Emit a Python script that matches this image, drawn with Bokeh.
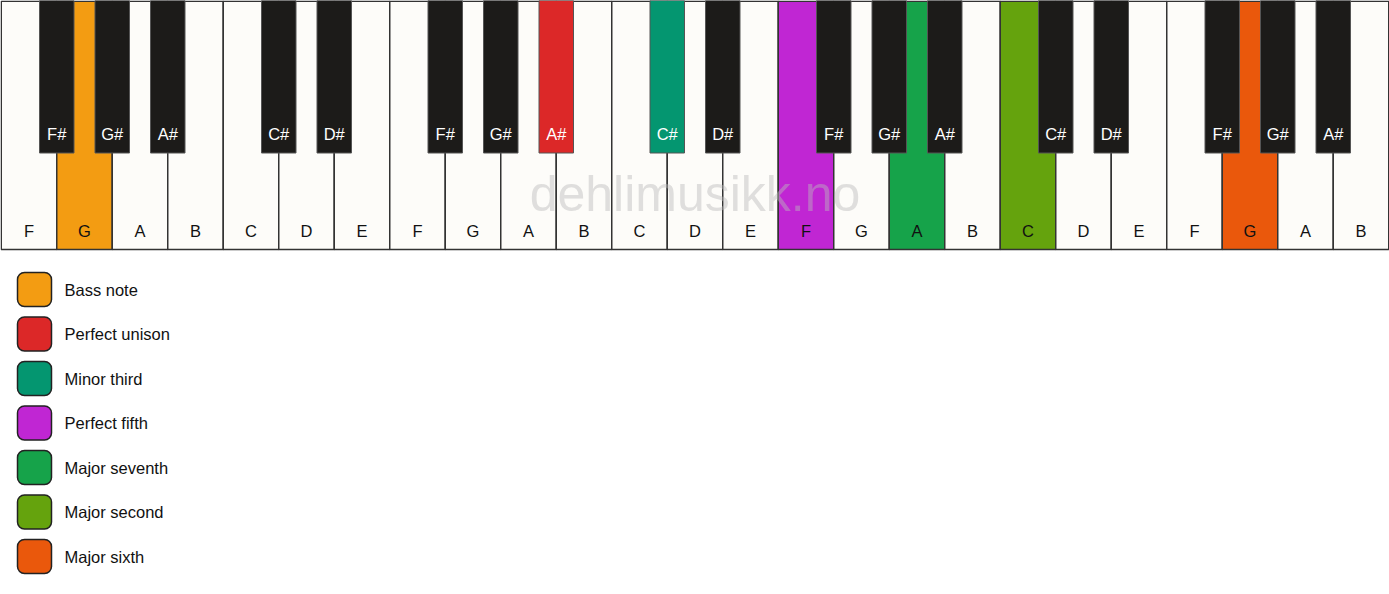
from bokeh.plotting import figure
from bokeh.models import Range1d, ColumnDataSource
from bokeh.core.properties import value
from bokeh.embed import file_html
from bokeh.resources import INLINE

# ---- data ----
white_notes = ["F", "G", "A", "B", "C", "D", "E",
               "F", "G", "A", "B", "C", "D", "E",
               "F", "G", "A", "B", "C", "D", "E",
               "F", "G", "A", "B"]
# black key = (label, index of white key to its left)
black_notes = [("F#", 0), ("G#", 1), ("A#", 2), ("C#", 4), ("D#", 5),
               ("F#", 7), ("G#", 8), ("A#", 9), ("C#", 11), ("D#", 12),
               ("F#", 14), ("G#", 15), ("A#", 16), ("C#", 18), ("D#", 19),
               ("F#", 21), ("G#", 22), ("A#", 23)]
# highlighted keys: key index -> interval name
highlight_white = {1: "Bass note", 14: "Perfect fifth", 16: "Major seventh",
                   18: "Major second", 22: "Major sixth"}
highlight_black = {9: "Perfect unison", 11: "Minor third"}
legend_labels = ["Bass note", "Perfect unison", "Minor third", "Perfect fifth",
                 "Major seventh", "Major second", "Major sixth"]
legend_colors = ["#f39c12", "#dc2828", "#049670", "#c026d3",
                 "#16a34a", "#65a30d", "#ea580c"]
watermark = "dehlimusikk.no"

color_of = dict(zip(legend_labels, legend_colors))

# ---- geometry ----
W_TOTAL = 1389
H_TOTAL = 594
n_white = len(white_notes)
x0 = 0.75
kw = (W_TOTAL - 2 * x0) / n_white
white_h = 249
black_h = 152.5
black_w = 34.5

FONT = value("Liberation Sans")
FS = "16.5px"

p = figure(width=W_TOTAL, height=H_TOTAL, output_backend="svg", toolbar_location=None,
           x_range=Range1d(0, W_TOTAL), y_range=Range1d(H_TOTAL, 0),
           min_border=0, min_border_left=0, min_border_right=0,
           min_border_top=0, min_border_bottom=0)
p.xaxis.visible = False
p.yaxis.visible = False
p.grid.visible = False
p.outline_line_color = None
p.background_fill_color = "white"
p.border_fill_color = "white"

# white keys
wl = [x0 + i * kw for i in range(n_white)]
wr = [x0 + (i + 1) * kw for i in range(n_white)]
wcol = [color_of[highlight_white[i]] if i in highlight_white else "#fdfcf9"
        for i in range(n_white)]
wsrc = ColumnDataSource(dict(left=wl, right=wr, top=[0.75] * n_white,
                             bottom=[white_h] * n_white, color=wcol,
                             x=[x0 + (i + 0.5) * kw for i in range(n_white)],
                             y=[230] * n_white, label=white_notes))
p.quad(left="left", right="right", top="top", bottom="bottom", source=wsrc,
       fill_color="color", line_color="#333333", line_width=1.5)
p.text(x="x", y="y", text="label", source=wsrc, text_font=FONT,
       text_font_size=FS, text_align="center", text_baseline="middle",
       text_color="#111111")

# black keys
bx = [x0 + (idx + 1) * kw for _, idx in black_notes]
bcol = [color_of[highlight_black[idx]] if idx in highlight_black else "#1c1b19"
        for _, idx in black_notes]
bsrc = ColumnDataSource(dict(left=[x - black_w / 2 for x in bx],
                             right=[x + black_w / 2 for x in bx],
                             top=[0] * len(bx), bottom=[black_h] * len(bx),
                             color=bcol, x=bx, y=[133] * len(bx),
                             label=[n for n, _ in black_notes]))
p.quad(left="left", right="right", top="top", bottom="bottom", source=bsrc,
       fill_color="color", line_color="#555555", line_width=1)
p.text(x="x", y="y", text="label", source=bsrc, text_font=FONT,
       text_font_size=FS, text_align="center", text_baseline="middle",
       text_color="white")

# watermark
p.text(x=[W_TOTAL / 2], y=[193], text=[watermark], text_font=FONT,
       text_font_size="50px", text_align="center", text_baseline="middle",
       text_color="#bbbbbb", text_alpha=0.45)

# legend
n_leg = len(legend_labels)
ly = [289 + 44.5 * i for i in range(n_leg)]
lsrc = ColumnDataSource(dict(left=[17] * n_leg, right=[51] * n_leg,
                             top=[y - 17 for y in ly], bottom=[y + 17 for y in ly],
                             color=legend_colors, x=[64] * n_leg, y=ly,
                             label=legend_labels))
p.quad(left="left", right="right", top="top", bottom="bottom", source=lsrc,
       fill_color="color", line_color="#222222", line_width=1.5, border_radius=7)
p.text(x="x", y="y", text="label", source=lsrc, text_font=FONT,
       text_font_size=FS, text_align="left", text_baseline="middle",
       text_color="#111111")

open("out.html", "w").write(file_html(p, INLINE))
